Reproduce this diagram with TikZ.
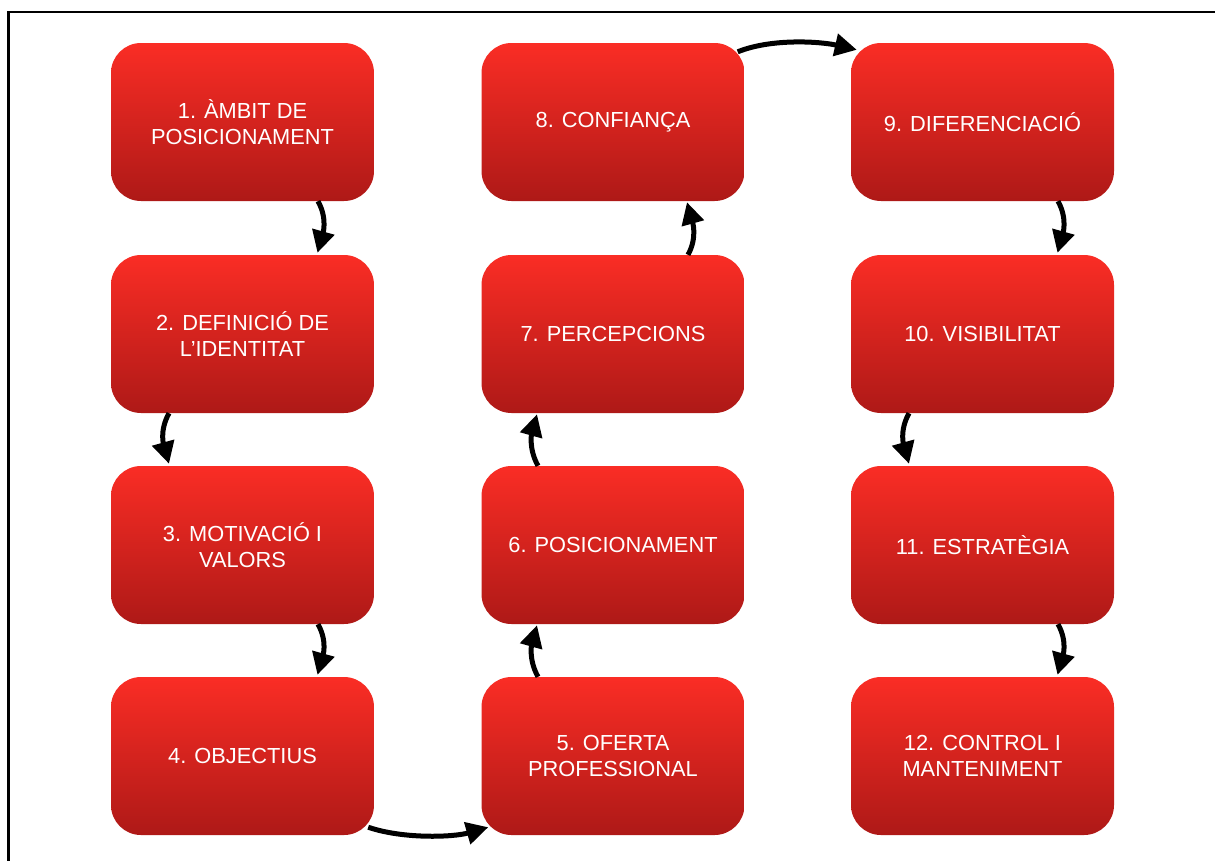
\documentclass[tikz,border=0pt]{standalone}
\usepackage{fontspec}
\setmainfont{Liberation Sans}
\usetikzlibrary{arrows.meta}
\definecolor{boxtop}{RGB}{250,45,37}
\definecolor{boxbot}{RGB}{174,25,23}
\begin{document}
\begin{tikzpicture}[x=1pt,y=-1pt,
  box/.style={rounded corners=30pt, top color=boxtop, bottom color=boxbot, draw=none,
    minimum width=263pt, minimum height=158pt, inner sep=0pt, text=white, align=center,
    font=\fontsize{21.8}{26.7}\selectfont},
  arr/.style={line width=5pt, -{Triangle[length=22pt,width=22pt]}},
  frame/.style={line width=2.5pt}]
\useasboundingbox (0,0) rectangle (1215,860);
\draw[frame] (8.3,880) -- (8.3,12) -- (1230,12);
% column 1
\node[box] (n1) at (242.5,122) {1. ÀMBIT DE\\POSICIONAMENT};
\node[box] (n2) at (242.5,334) {2. DEFINICIÓ DE\\L’IDENTITAT};
\node[box] (n3) at (242.5,545) {3. MOTIVACIÓ I\\VALORS};
\node[box] (n4) at (242.5,756) {4. OBJECTIUS};
% column 2
\node[box] (n5) at (613,756) {5. OFERTA\\PROFESSIONAL};
\node[box] (n6) at (613,545) {6. POSICIONAMENT};
\node[box] (n7) at (613,334) {7. PERCEPCIONS};
\node[box] (n8) at (613,122) {8. CONFIANÇA};
% column 3
\node[box] (n9) at (982.5,122) {9. DIFERENCIACIÓ};
\node[box] (n10) at (982.5,334) {10. VISIBILITAT};
\node[box] (n11) at (982.5,545) {11. ESTRATÈGIA};
\node[box] (n12) at (982.5,756) {12. CONTROL I\\MANTENIMENT};
% arrows
\draw[arr] ([xshift=75.5pt]n1.south) .. controls +(10,18) and +(5,-18) .. ([xshift=75pt,yshift=2pt]n2.north);
\draw[arr] ([xshift=-73.5pt]n2.south) .. controls +(-10,18) and +(-5,-18) .. ([xshift=-73.5pt,yshift=2pt]n3.north);
\draw[arr] ([xshift=75.5pt]n3.south) .. controls +(10,18) and +(5,-18) .. ([xshift=75pt,yshift=2pt]n4.north);
\draw[arr] ([shift={(-6,-8)}]n4.south east) .. controls +(35,12) and +(-35,10) .. ([shift={(7,-8)}]n5.south west);
\draw[arr] ([xshift=-75pt]n5.north) .. controls +(-10,-18) and +(-5,18) .. ([xshift=-76pt,yshift=-1pt]n6.south);
\draw[arr] ([xshift=-75pt]n6.north) .. controls +(-10,-18) and +(-5,18) .. ([xshift=-76pt,yshift=-1pt]n7.south);
\draw[arr] ([xshift=75pt]n7.north) .. controls +(10,-18) and +(5,18) .. ([xshift=74pt,yshift=-1pt]n8.south);
\draw[arr] ([shift={(-7,9)}]n8.north east) .. controls +(35,-14) and +(-35,-8) .. ([shift={(6,7)}]n9.north west);
\draw[arr] ([xshift=75.5pt]n9.south) .. controls +(10,18) and +(5,-18) .. ([xshift=75pt,yshift=2pt]n10.north);
\draw[arr] ([xshift=-73.5pt]n10.south) .. controls +(-10,18) and +(-5,-18) .. ([xshift=-73.5pt,yshift=2pt]n11.north);
\draw[arr] ([xshift=75.5pt]n11.south) .. controls +(10,18) and +(5,-18) .. ([xshift=75pt,yshift=2pt]n12.north);
\end{tikzpicture}
\end{document}
